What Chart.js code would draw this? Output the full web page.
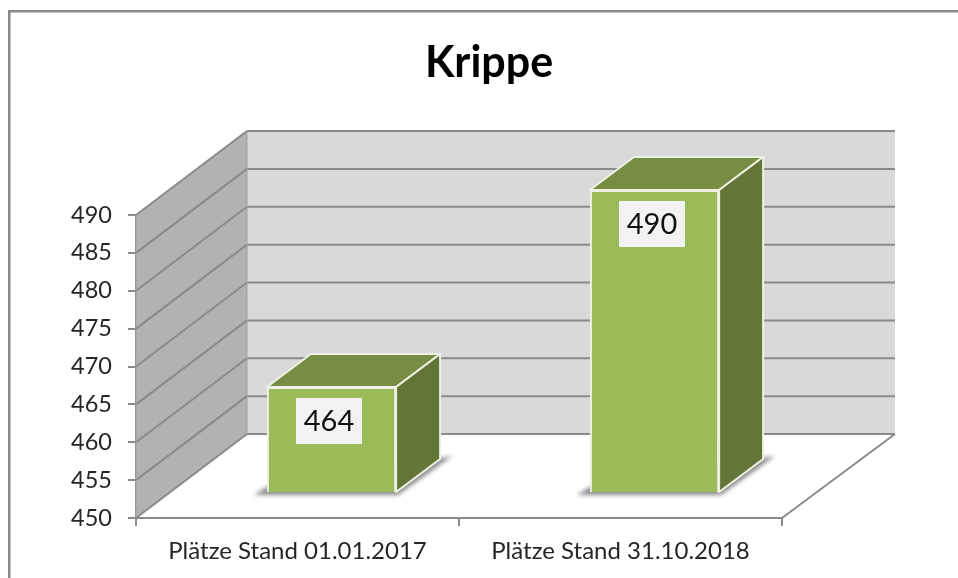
<!DOCTYPE html>
<html>
<head>
<meta charset="utf-8">
<title>Krippe</title>
<script src="https://cdn.jsdelivr.net/npm/chart.js@4"></script>
<style>
  html, body { margin: 0; padding: 0; background: #fff; }
  #wrap { width: 958px; height: 578px; overflow: hidden; }
  canvas { filter: blur(0.5px); }
</style>
</head>
<body>
<div id="wrap"><canvas id="krippeChart" width="958" height="578"></canvas></div>
<script>
const chartTitle = "Krippe";
const categories = ["Plätze Stand 01.01.2017", "Plätze Stand 31.10.2018"];
const places = [464, 490];
const valueTicks = [450, 455, 460, 465, 470, 475, 480, 485, 490];

const font = "Lato, Carlito, 'Open Sans', sans-serif";
const lineGrey = "#8a8a8a";

// how far the back wall and the bar row sit behind the front axis (px)
const wallDepth = { x: 111, y: -84 };
const barShift = { x: 34, y: -25 };
const barDepth = { x: 44, y: -33 };

function poly(ctx, pts, fill) {
  ctx.beginPath();
  pts.forEach((p, i) => (i ? ctx.lineTo(p[0], p[1]) : ctx.moveTo(p[0], p[1])));
  ctx.closePath();
  if (fill) {
    ctx.fillStyle = fill;
    ctx.fill();
  }
}

function line(ctx, x1, y1, x2, y2) {
  ctx.beginPath();
  ctx.moveTo(x1, y1);
  ctx.lineTo(x2, y2);
  ctx.stroke();
}

// frame, walls and floor of the 3D look, all taken from the scales
const walls = {
  id: "walls",
  afterLayout(chart) {
    // title is centred on the whole frame, not on the plot
    chart.titleBlock.left = 0;
    chart.titleBlock.right = 978;
  },
  beforeDatasetsDraw(chart) {
    const { ctx, chartArea: a, scales } = chart;
    const dx = wallDepth.x, dy = wallDepth.y;
    ctx.save();

    ctx.fillStyle = lineGrey;
    ctx.fillRect(8, 10, 950, 2.5);
    ctx.fillRect(8, 10, 2.5, 568);

    poly(ctx, [[a.left + dx, a.top + dy], [a.right + dx + 2, a.top + dy], [a.right + dx + 2, a.bottom + dy], [a.left + dx, a.bottom + dy]], "#d9d9d9");
    poly(ctx, [[a.left, a.top], [a.left + dx, a.top + dy], [a.left + dx, a.bottom + dy], [a.left, a.bottom]], "#b2b2b2");

    ctx.strokeStyle = lineGrey;
    ctx.lineWidth = 2;
    valueTicks.forEach((v) => {
      const y = scales.y.getPixelForValue(v);
      line(ctx, a.left, y, a.left + dx, y + dy);
      line(ctx, a.left + dx, y + dy, a.right + dx + 2, y + dy);
    });
    line(ctx, a.right, a.bottom, a.right + dx + 2, a.bottom + dy);
    ctx.lineWidth = 1;
    ctx.strokeStyle = "#a0a0a0";
    line(ctx, a.left + dx, a.top + dy, a.left + dx, a.bottom + dy);
    line(ctx, a.left, a.top, a.left, a.bottom);

    // soft shadows of the bars on the floor
    chart.getDatasetMeta(0).data.forEach((bar) => {
      const l = bar.x - bar.width / 2 + barShift.x;
      const r = bar.x + bar.width / 2 + barShift.x;
      const b = bar.base + barShift.y;
      ctx.save();
      ctx.filter = "blur(2px)";
      poly(ctx, [[l - 13, b + 3], [l, b - 5], [r + barDepth.x + 12, b + barDepth.y - 3], [r + 2, b + 3]], "#8c8c8c");
      ctx.restore();
    });
    ctx.restore();

    // bars stand further back than the axis, so shift them onto the floor
    ctx.save();
    ctx.translate(barShift.x, barShift.y);
  },
  afterDatasetsDraw(chart) {
    const { ctx } = chart;
    ctx.restore();
    ctx.save();
    chart.getDatasetMeta(0).data.forEach((bar, i) => {
      const l = bar.x - bar.width / 2 + barShift.x;
      const r = bar.x + bar.width / 2 + barShift.x;
      const t = bar.y + barShift.y;
      const b = bar.base + barShift.y;
      const dx = barDepth.x, dy = barDepth.y;

      ctx.strokeStyle = "#eef2e4";
      ctx.lineWidth = 2;
      ctx.lineJoin = "round";
      poly(ctx, [[l, t], [l + dx, t + dy], [r + dx, t + dy], [r, t]], "#768d43");
      ctx.stroke();
      poly(ctx, [[r, t], [r + dx, t + dy], [r + dx, b + dy], [r, b]], "#647637");
      ctx.stroke();

      // value label in its pale box
      const cx = (l + r) / 2 - 2.5;
      const boxTop = t + 11;
      ctx.fillStyle = "#f2f2f2";
      ctx.fillRect(cx - 33, boxTop, 66, 46);
      ctx.fillStyle = "#111";
      ctx.font = "29px " + font;
      ctx.textAlign = "center";
      ctx.textBaseline = "middle";
      ctx.fillText(String(places[i]), cx, boxTop + 24);
    });
    ctx.restore();
  }
};

new Chart(document.getElementById("krippeChart").getContext("2d"), {
  type: "bar",
  data: {
    labels: categories,
    datasets: [{
      label: chartTitle,
      data: places,
      base: valueTicks[0],
      backgroundColor: "#9bbb59",
      borderColor: "#eef2e4",
      borderWidth: 2,
      categoryPercentage: 0.4,
      barPercentage: 1
    }]
  },
  options: {
    responsive: false,
    animation: false,
    layout: { padding: { right: 176 } },
    plugins: {
      legend: { display: false },
      tooltip: { enabled: false },
      title: {
        display: true,
        text: chartTitle,
        color: "#000",
        font: { family: font, size: 43, weight: "bold", lineHeight: 1.2 },
        padding: { top: 37, bottom: 126.4 }
      }
    },
    scales: {
      x: {
        grid: { color: lineGrey, lineWidth: 2, drawOnChartArea: false, tickLength: 8 },
        border: { color: lineGrey, width: 2 },
        ticks: { color: "#262626", font: { family: font, size: 24 }, padding: 11, maxRotation: 0 },
        afterFit(scale) { scale.height = 60; }
      },
      y: {
        min: 450,
        max: 490,
        afterBuildTicks(scale) { scale.ticks = valueTicks.map((value) => ({ value })); },
        grid: { color: lineGrey, lineWidth: 2, drawOnChartArea: false, tickLength: 8 },
        border: { color: lineGrey, width: 2 },
        ticks: { color: "#262626", font: { family: font, size: 23.5 }, padding: 16 },
        afterFit(scale) { scale.width = 136; }
      }
    }
  },
  plugins: [walls]
});
</script>
</body>
</html>
